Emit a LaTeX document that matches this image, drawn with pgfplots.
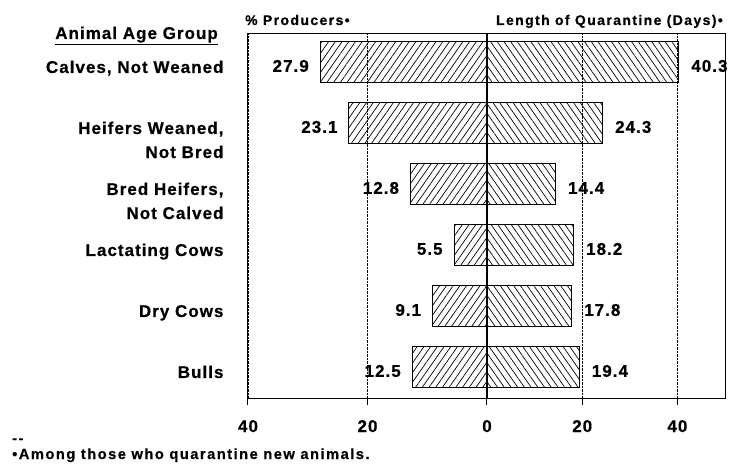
\documentclass[border=0pt]{standalone}
\usepackage{fontspec}
\setmainfont{Liberation Sans}
\newfontfamily\spA[LetterSpace=6, BoldFeatures={FakeBold=0.6}]{Liberation Sans}
\newfontfamily\spB[LetterSpace=10, BoldFeatures={FakeBold=0.6}]{Liberation Sans}
\newcommand\lab{\spA\bfseries\fontsize{17}{20}\selectfont}
\newcommand\hdr{\spB\bfseries\fontsize{14}{17}\selectfont}
\newcommand\ftn{\spB\bfseries\fontsize{14.7}{17}\selectfont}
\usepackage{pgfplots}
\pgfplotsset{compat=1.18}
\usetikzlibrary{patterns.meta}
\pgfplotsset{
  halfaxis/.style={
    scale only axis, height=365pt,
    ymin=-0.475, ymax=5.508, y dir=reverse,
    ytick=\empty,
    xtick pos=bottom, tick align=outside, major tick length=7pt,
    xmajorgrids, grid style={densely dotted, black, line width=0.6pt},
    axis line style={line width=1pt},
    major tick style={line width=1pt, black},
    xbar, bar width=41pt, bar shift=0pt,
    ticklabel style={font=\lab},
    xticklabel style={anchor=base, yshift=-27pt},
    /pgf/number format/assume math mode=true,
    clip=false,
  }
}
\pgfplotstableread{
idx pct days
0 27.9 40.3
1 23.1 24.3
2 12.8 14.4
3 5.5 18.2
4 9.1 17.8
5 12.5 19.4
}\datatable
\begin{document}
\begin{tikzpicture}[x=1pt,y=1pt]
\path[use as bounding box] (-248,-65) rectangle (485,398);
\begin{axis}[halfaxis, at={(0pt,0pt)}, anchor=south west, width=239pt,
  x dir=reverse, xmin=0, xmax=40, xtick={0,20,40}]
\addplot[draw=black, line width=1pt,
  pattern={Lines[angle=55,distance=5.5pt,line width=0.7pt]}, pattern color=black]
  table[x=pct, y=idx] {\datatable};
\foreach \v/\i in {27.9/0, 23.1/1, 12.8/2, 5.5/3, 9.1/4, 12.5/5}{
  \edef\tmp{\noexpand\node[anchor=east, font=\noexpand\lab, xshift=-8pt, yshift=-4pt] at (axis cs:\v,\i) {\v};}\tmp
}
% category labels
\node[anchor=base east, font=\lab, xshift=-21pt] at (axis cs:40,0.18) {Calves, Not Weaned};
\node[anchor=base east, font=\lab, xshift=-21pt] at (axis cs:40,1.18) {Heifers Weaned,};
\node[anchor=base east, font=\lab, xshift=-21pt] at (axis cs:40,1.574) {Not Bred};
\node[anchor=base east, font=\lab, xshift=-21pt] at (axis cs:40,2.18) {Bred Heifers,};
\node[anchor=base east, font=\lab, xshift=-21pt] at (axis cs:40,2.574) {Not Calved};
\node[anchor=base east, font=\lab, xshift=-21pt] at (axis cs:40,3.18) {Lactating Cows};
\node[anchor=base east, font=\lab, xshift=-21pt] at (axis cs:40,4.18) {Dry Cows};
\node[anchor=base east, font=\lab, xshift=-21pt] at (axis cs:40,5.18) {Bulls};
\end{axis}
\begin{axis}[halfaxis, at={(239pt,0pt)}, anchor=south west, width=238pt,
  xmin=0, xmax=50, xtick={20,40}]
\addplot[draw=black, line width=1pt,
  pattern={Lines[angle=-55,distance=5.5pt,line width=0.7pt]}, pattern color=black]
  table[x=days, y=idx] {\datatable};
\foreach \v/\i in {40.3/0, 24.3/1, 14.4/2, 18.2/3, 17.8/4, 19.4/5}{
  \edef\tmp{\noexpand\node[anchor=west, font=\noexpand\lab, xshift=9pt, yshift=-4pt] at (axis cs:\v,\i) {\v};}\tmp
}
\end{axis}
\node[anchor=base west, font=\hdr, inner sep=0pt] at (-3,373) {\% Producers•};
\node[anchor=base east, font=\hdr, inner sep=0pt] at (475,373) {Length of Quarantine (Days)•};
\node[anchor=base east, font=\lab, inner sep=0pt] at (-30,359) {\underline{Animal Age Group}};
\node[anchor=base west, font=\ftn, inner sep=0pt] at (-236,-45) {-{}-};
\node[anchor=base west, font=\ftn, inner sep=0pt] at (-236,-61) {•Among those who quarantine new animals.};
\end{tikzpicture}
\end{document}
